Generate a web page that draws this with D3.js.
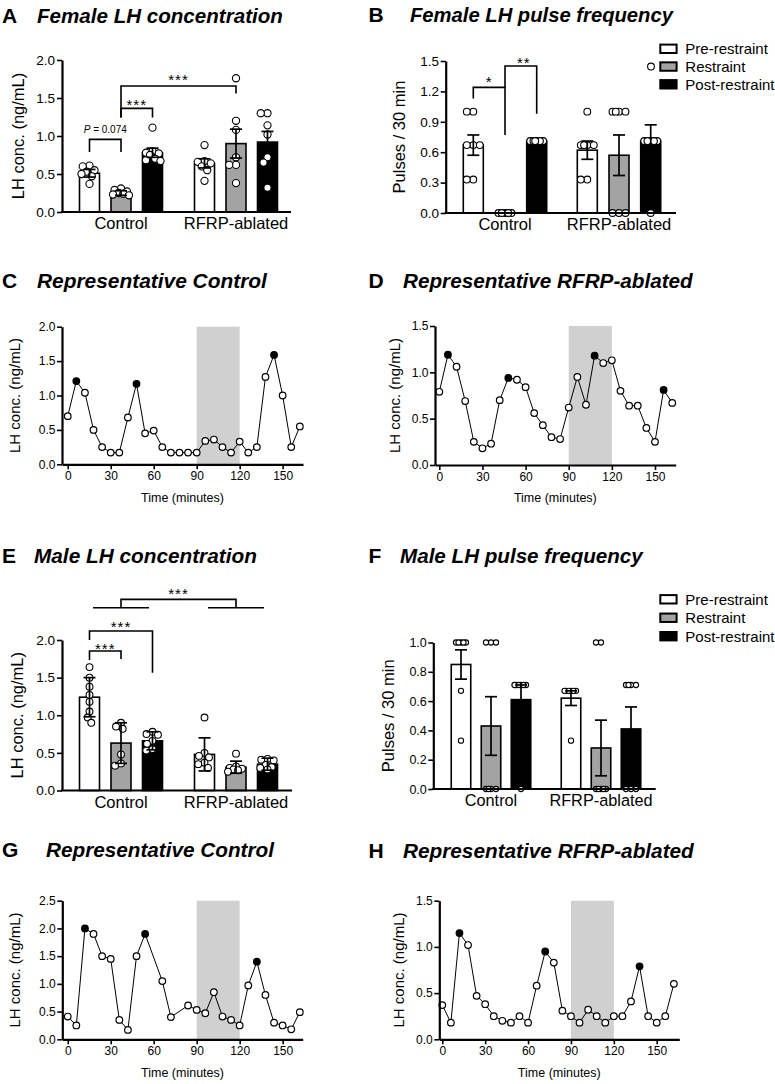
<!DOCTYPE html>
<html><head><meta charset="utf-8">
<script src="https://cdn.jsdelivr.net/npm/d3@7"></script>
<style>
body{margin:0;background:#fff;}
svg text{font-family:"Liberation Sans",Arial,Helvetica,sans-serif;fill:#000;}
</style></head><body>
<svg id="fig" width="775" height="1084"></svg>
<script>
// ---------------- DATA ----------------
const groups = ["Control", "RFRP-ablated"];
const conditions = ["Pre-restraint", "Restraint", "Post-restraint"];
const conditionFills = ["#ffffff", "#a3a3a3", "#000000"];

// A: Female LH concentration (mean, SEM, individual animals)
const femaleConcMean = [[0.51, 0.25, 0.78], [0.64, 0.90, 0.92]];
const femaleConcErr  = [[0.05, 0.03, 0.06], [0.06, 0.19, 0.14]];
const femaleConcPoints = [
  [[0.61, 0.60, 0.55, 0.53, 0.50, 0.47, 0.37], [0.31, 0.29, 0.27, 0.25, 0.24, 0.23, 0.22], [1.11, 0.80, 0.78, 0.77, 0.75, 0.70, 0.68, 0.67]],
  [[0.88, 0.67, 0.66, 0.64, 0.60, 0.55, 0.41], [1.76, 1.20, 1.08, 0.72, 0.62, 0.62, 0.38], [1.30, 1.30, 1.14, 1.02, 0.72, 0.65, 0.32]]
];
const concTicks = [0, 0.5, 1.0, 1.5, 2.0];

// B: Female LH pulse frequency
const femaleFreqMean = [[0.67, 0.0, 0.71], [0.62, 0.57, 0.71]];
const femaleFreqErr  = [[0.10, 0.0, 0.0], [0.09, 0.20, 0.16]];
const femaleFreqPoints = [
  [[1, 1, 0.67, 0.67, 0.67, 0.33, 0.33], [0, 0, 0, 0, 0], [0.71, 0.71, 0.71, 0.71, 0.71, 0.71]],
  [[1, 0.67, 0.67, 0.67, 0.67, 0.33, 0.33], [1, 1, 1, 1, 0, 0, 0], [0.71, 0.71, 0.71, 0.71, 0.71, 0]]
];
const femaleFreqTicks = [0, 0.3, 0.6, 0.9, 1.2, 1.5];

// E: Male LH concentration (mean, SD)
const maleConcMean = [[1.24, 0.63, 0.66], [0.48, 0.31, 0.35]];
const maleConcErr  = [[0.26, 0.27, 0.12], [0.22, 0.08, 0.08]];
const maleConcPoints = [
  [[1.64, 1.50, 1.38, 1.27, 1.18, 1.05, 0.97, 0.90], [0.90, 0.85, 0.82, 0.48, 0.36, 0.33], [0.78, 0.75, 0.74, 0.66, 0.62, 0.55, 0.53]],
  [[0.97, 0.50, 0.46, 0.44, 0.37, 0.35, 0.30], [0.49, 0.32, 0.30, 0.29, 0.28, 0.27, 0.25], [0.42, 0.41, 0.40, 0.34, 0.31, 0.30, 0.28]]
];

// F: Male LH pulse frequency
const maleFreqMean = [[0.85, 0.43, 0.61], [0.62, 0.28, 0.41]];
const maleFreqErr  = [[0.10, 0.20, 0.10], [0.05, 0.19, 0.15]];
const maleFreqPoints = [
  [[1, 1, 1, 1, 1, 0.67, 0.33], [1, 1, 1, 0, 0, 0, 0], [0.71, 0.71, 0.71, 0.71, 0.71, 0.71, 0]],
  [[0.67, 0.67, 0.67, 0.67, 0.67, 0.67, 0.33], [1, 1, 0, 0, 0, 0, 0], [0.71, 0.71, 0.71, 0.71, 0, 0, 0]]
];
const maleFreqTicks = [0, 0.2, 0.4, 0.6, 0.8, 1.0];

// Representative profiles (time in minutes, LH ng/mL, pulse peaks)
const sampleTimes = [0, 6, 12, 18, 24, 30, 36, 42, 48, 54, 60, 66, 72, 78, 84, 90, 96, 102, 108, 114, 120, 126, 132, 138, 144, 150, 156, 162];
const femaleControlLH = [0.70, 1.21, 1.04, 0.50, 0.25, 0.17, 0.17, 0.68, 1.17, 0.45, 0.49, 0.25, 0.17, 0.17, 0.17, 0.17, 0.34, 0.36, 0.25, 0.17, 0.33, 0.17, 0.25, 1.27, 1.59, 1.00, 0.25, 0.55];
const femaleControlPulses = [6, 48, 144];
const femaleAblatedLH = [0.79, 1.19, 1.06, 0.69, 0.25, 0.18, 0.23, 0.70, 0.94, 0.92, 0.84, 0.56, 0.43, 0.30, 0.28, 0.62, 0.95, 0.65, 1.18, 1.10, 1.13, 0.80, 0.64, 0.64, 0.40, 0.25, 0.81, 0.67];
const femaleAblatedPulses = [6, 48, 108, 156];
const maleControlTimes = [0, 6, 12, 18, 24, 30, 36, 42, 48, 54, 66, 72, 84, 90, 96, 102, 108, 114, 120, 126, 132, 138, 144, 150, 156, 162];
const maleControlLH = [0.41, 0.25, 2.00, 1.90, 1.50, 1.45, 0.35, 0.17, 1.50, 1.90, 1.05, 0.40, 0.61, 0.53, 0.47, 0.85, 0.41, 0.35, 0.25, 0.97, 1.40, 0.80, 0.30, 0.25, 0.18, 0.49];
const maleControlPulses = [12, 54, 132];
const maleAblatedLH = [0.37, 0.18, 1.15, 1.02, 0.47, 0.38, 0.25, 0.20, 0.18, 0.25, 0.18, 0.58, 0.95, 0.83, 0.31, 0.25, 0.18, 0.32, 0.25, 0.18, 0.25, 0.25, 0.41, 0.79, 0.25, 0.18, 0.25, 0.60];
const maleAblatedPulses = [12, 72, 138];
const restraintWindow = [90, 120];
const timeTicks = [0, 30, 60, 90, 120, 150];

// ---------------- DRAWING ----------------
const svg = d3.select("#fig");
const fmt1 = d3.format(".1f");

function panelTitle(letter, lx, tx, base, text, targetW) {
  svg.append("text").attr("x", lx).attr("y", base).attr("font-size", 21)
    .attr("font-weight", "bold").text(letter);
  const t = svg.append("text").attr("x", tx).attr("y", base).attr("font-size", 20)
    .attr("font-weight", "bold").attr("font-style", "italic").text(text);
  const w = t.node().getComputedTextLength();
  t.attr("font-size", 20 * targetW / w);
}

function styleAxis(g, fs, domainW) {
  g.select(".domain").attr("stroke-width", domainW).attr("stroke", "#000");
  g.selectAll(".tick line").attr("stroke-width", 1.6).attr("stroke", "#000");
  g.selectAll(".tick text").attr("font-size", fs).attr("font-family", null).attr("fill", "#000");
}

function yTitle(text, x, cy, fs) {
  svg.append("text").attr("transform", `translate(${x},${cy}) rotate(-90)`)
    .attr("text-anchor", "middle").attr("font-size", fs).text(text);
}

function swarm(vals, cx, yS, r, half) {
  const pts = vals.map(v => ({ v, y: yS(v) })).sort((a, b) => a.y - b.y);
  const placed = [];
  const need = 2 * r * 0.92;
  const offs = [0];
  for (let k = 1; k * 0.25 <= half + 1e-9; k++) offs.push(-k * 0.25, k * 0.25);
  for (const p of pts) {
    let chosen = null, bestMin = -Infinity, bestOff = 0;
    for (const o of offs) {
      let md = Infinity;
      for (const q of placed) md = Math.min(md, Math.hypot(cx + o - q.x, p.y - q.y));
      if (md >= need) { chosen = o; break; }
      if (md > bestMin + 1e-6) { bestMin = md; bestOff = o; }
    }
    p.x = cx + (chosen === null ? bestOff : chosen);
    placed.push(p);
  }
  return placed;
}

function barPanel(c) {
  const y = d3.scaleLinear().domain([0, c.yMax]).range([c.y0, c.y1]);
  const xo = d3.scaleBand().domain(groups).range(c.outer);
  const xi = d3.scaleBand().domain(conditions).range([0, xo.bandwidth()])
    .paddingInner(c.pi).paddingOuter(c.po);
  const bw = xi.bandwidth();
  const cxOf = (gi, ci) => xo(groups[gi]) + xi(conditions[ci]) + bw / 2;
  const g = svg.append("g");
  groups.forEach((gr, gi) => conditions.forEach((cd, ci) => {
    const m = c.mean[gi][ci];
    g.append("rect").attr("x", xo(gr) + xi(cd)).attr("width", bw)
      .attr("y", y(m)).attr("height", y(0) - y(m))
      .attr("fill", conditionFills[ci]).attr("stroke", "#000").attr("stroke-width", 1.6);
  }));
  // points
  groups.forEach((gr, gi) => conditions.forEach((cd, ci) => {
    const pts = swarm(c.points[gi][ci], cxOf(gi, ci), y, c.r, c.half);
    g.selectAll(null).data(pts).enter().append("circle")
      .attr("cx", d => d.x).attr("cy", d => d.y).attr("r", c.r)
      .attr("fill", "#fff").attr("stroke", "#000").attr("stroke-width", 1.1);
  }));
  // error bars
  groups.forEach((gr, gi) => conditions.forEach((cd, ci) => {
    const m = c.mean[gi][ci], e = c.err[gi][ci];
    if (e <= 0) return;
    const cx = cxOf(gi, ci);
    const col = ci === 2 ? "#000" : "#000";
    g.append("line").attr("x1", cx).attr("x2", cx).attr("y1", y(m - e)).attr("y2", y(m + e))
      .attr("stroke", col).attr("stroke-width", 1.7);
    [m - e, m + e].forEach(v => g.append("line").attr("x1", cx - 6).attr("x2", cx + 6)
      .attr("y1", y(v)).attr("y2", y(v)).attr("stroke", col).attr("stroke-width", 1.7));
  }));
  // axes
  const ya = svg.append("g").attr("transform", `translate(${c.axisX},0)`)
    .call(d3.axisLeft(y).tickValues(c.ticks).tickFormat(fmt1).tickSize(5).tickSizeOuter(0).tickPadding(c.tp || 2));
  styleAxis(ya, c.tickFs, 2.2);
  svg.append("line").attr("x1", c.axisX - 1.1).attr("x2", c.xEnd).attr("y1", y(0)).attr("y2", y(0))
    .attr("stroke", "#000").attr("stroke-width", 2.2);
  const xa = svg.append("g").attr("transform", `translate(0,${y(0)})`)
    .call(d3.axisBottom(xo).tickSize(0).tickPadding(c.catPad));
  xa.select(".domain").remove();
  xa.selectAll(".tick text").attr("font-size", c.catFs).attr("font-family", null).attr("fill", "#000");
  yTitle(c.title, c.titleX, (c.y0 + c.y1) / 2, c.titleFs);
  return { y, xo, cxOf };
}

function bracket(p, a, b, top, endA, endB) {
  const xa = p.cxOf(a[0], a[1]), xb = p.cxOf(b[0], b[1]);
  const pts = [[xa, p.y(endA)], [xa, p.y(top)], [xb, p.y(top)], [xb, p.y(endB)]];
  svg.append("path").attr("d", d3.line()(pts)).attr("fill", "none")
    .attr("stroke", "#000").attr("stroke-width", 1.6);
  return (xa + xb) / 2;
}
function stars(x, yc, text, fs) {
  svg.append("text").attr("x", x).attr("y", yc + 0.585 * fs).attr("text-anchor", "middle")
    .attr("font-size", fs).attr("letter-spacing", 1).text(text);
}

function legend(x, y0, step) {
  conditions.forEach((cd, i) => {
    const yc = y0 + i * step;
    svg.append("rect").attr("x", x + 1).attr("y", yc - 4.2).attr("width", 16.3).attr("height", 8.4)
      .attr("fill", conditionFills[i]).attr("stroke", "#000").attr("stroke-width", 2);
    svg.append("text").attr("x", x + 26).attr("y", yc + 5.3).attr("font-size", 15).text(cd);
  });
}

function timePanel(c) {
  const x = d3.scaleLinear().domain(c.xDom).range(c.xRange);
  const y = d3.scaleLinear().domain([0, c.yMax]).range([c.y0, c.y1]);
  svg.append("rect").attr("x", x(restraintWindow[0])).attr("width", x(restraintWindow[1]) - x(restraintWindow[0]))
    .attr("y", y(c.yMax)).attr("height", y(0) - y(c.yMax)).attr("fill", "#d0d0d0");
  const data = c.times.map((t, i) => ({ t, v: c.values[i], pulse: c.pulses.includes(t) }));
  svg.append("path").datum(data).attr("d", d3.line().x(d => x(d.t)).y(d => y(d.v)))
    .attr("fill", "none").attr("stroke", "#000").attr("stroke-width", 1);
  svg.append("g").selectAll("circle").data(data).enter().append("circle")
    .attr("cx", d => x(d.t)).attr("cy", d => y(d.v)).attr("r", 3.3)
    .attr("fill", d => d.pulse ? "#000" : "#fff").attr("stroke", "#000").attr("stroke-width", 1.2);
  const ya = svg.append("g").attr("transform", `translate(${c.xRange[0]},0)`)
    .call(d3.axisLeft(y).tickValues(c.yTicks).tickFormat(fmt1).tickSize(5).tickSizeOuter(0).tickPadding(1.5));
  styleAxis(ya, 12, 2.2);
  const xa = svg.append("g").attr("transform", `translate(0,${c.y0})`)
    .call(d3.axisBottom(x).tickValues(timeTicks).tickSize(5).tickSizeOuter(0).tickPadding(2));
  styleAxis(xa, 12, 2.2);
  yTitle("LH conc. (ng/mL)", c.titleX, (c.y0 + c.y1) / 2, 15);
  svg.append("text").attr("x", (c.xRange[0] + c.xRange[1]) / 2).attr("y", c.timeBase)
    .attr("text-anchor", "middle").attr("font-size", 12.5).text("Time (minutes)");
}

// ---- Titles ----
panelTitle("A", 2, 37, 22.5, "Female LH concentration", 246);
panelTitle("B", 368.5, 410, 21.5, "Female LH pulse frequency", 263);
panelTitle("C", 2, 37, 287.5, "Representative Control", 230);
panelTitle("D", 368.5, 403, 288, "Representative RFRP-ablated", 290);
panelTitle("E", 2, 34, 563, "Male LH concentration", 223);
panelTitle("F", 368.5, 400, 563, "Male LH pulse frequency", 243);
panelTitle("G", 2, 46, 857, "Representative Control", 228);
panelTitle("H", 368.5, 403, 858, "Representative RFRP-ablated", 291);

// ---- A ----
const pA = barPanel({ yMax: 2, y0: 212, y1: 60, outer: [63.5, 293.5], pi: 0.365, po: 0.508,
  mean: femaleConcMean, err: femaleConcErr, points: femaleConcPoints, r: 3.6, half: 8,
  axisX: 62, xEnd: 291, ticks: concTicks, tickFs: 13.5, catPad: 5.5, catFs: 16.5,
  title: "LH conc. (ng/mL)", titleX: 23.5, titleFs: 16.5 });
let mx = bracket(pA, [0, 0], [0, 1], 0.955, 0.79, 0.79);
svg.append("text").attr("x", mx).attr("y", pA.y(1.042)).attr("text-anchor", "middle").attr("font-size", 10)
  .html('<tspan font-style="italic">P</tspan> = 0.074');
mx = bracket(pA, [0, 1], [0, 2], 1.363, 1.244, 1.244);
stars(mx, pA.y(1.459), "***", 15);
mx = bracket(pA, [0, 1], [1, 1], 1.657, 1.244, 1.56);
stars(mx, pA.y(1.793), "***", 15);

// ---- B ----
const pB = barPanel({ yMax: 1.5, y0: 213, y1: 61, outer: [448, 676], pi: 0.369, po: 0.4825,
  mean: femaleFreqMean, err: femaleFreqErr, points: femaleFreqPoints, r: 3.4, half: 6.5,
  axisX: 445.7, xEnd: 676, ticks: femaleFreqTicks, tickFs: 13.5, tp: 1.7, catPad: 5.5, catFs: 16.5,
  title: "Pulses / 30 min", titleX: 405, titleFs: 16.5 });
mx = bracket(pB, [0, 0], [0, 1], 1.24, 1.13, 0.77);
stars(mx, pB.y(1.33), "*", 15);
mx = bracket(pB, [0, 1], [0, 2], 1.45, 1.24, 0.98);
stars(mx + 3, pB.y(1.52), "**", 15);
legend(659.3, 48.8, 17.75);
svg.append("circle").attr("cx", 651).attr("cy", 48.8 + 17.75).attr("r", 3.4)
  .attr("fill", "#fff").attr("stroke", "#000").attr("stroke-width", 1.1);

// ---- C, D ----
timePanel({ xDom: [-4, 164.2], xRange: [62, 303], yMax: 2, y0: 464.3, y1: 326.7,
  yTicks: [0, 0.5, 1, 1.5, 2], times: sampleTimes, values: femaleControlLH, pulses: femaleControlPulses,
  titleX: 19.5, timeBase: 502 });
timePanel({ xDom: [-3, 164.4], xRange: [435, 675.7], yMax: 1.5, y0: 465, y1: 326,
  yTicks: [0, 0.5, 1, 1.5], times: sampleTimes, values: femaleAblatedLH, pulses: femaleAblatedPulses,
  titleX: 400, timeBase: 502 });

// ---- E ----
const pE = barPanel({ yMax: 2, y0: 790.5, y1: 640, outer: [63.5, 293.5], pi: 0.365, po: 0.508,
  mean: maleConcMean, err: maleConcErr, points: maleConcPoints, r: 3.4, half: 8,
  axisX: 62, xEnd: 292, ticks: concTicks, tickFs: 13.5, catPad: 6, catFs: 16.5,
  title: "LH conc. (ng/mL)", titleX: 22.5, titleFs: 16.5 });
// group comparison bracket
(function () {
  const cA = pE.xo(groups[0]) + pE.xo.bandwidth() / 2, cB = pE.xo(groups[1]) + pE.xo.bandwidth() / 2;
  const yl = pE.y(2.429), yt = pE.y(2.54);
  [cA, cB].forEach(cx => svg.append("line").attr("x1", cx - 28).attr("x2", cx + 28).attr("y1", yl).attr("y2", yl)
    .attr("stroke", "#000").attr("stroke-width", 1.6));
  svg.append("path").attr("d", d3.line()([[cA, yl], [cA, yt], [cB, yt], [cB, yl]]))
    .attr("fill", "none").attr("stroke", "#000").attr("stroke-width", 1.6);
  stars((cA + cB) / 2, pE.y(2.668), "***", 15);
})();
mx = bracket(pE, [0, 0], [0, 2], 2.12, 2.0, 1.565);
stars(mx, pE.y(2.222), "***", 15);
mx = bracket(pE, [0, 0], [0, 1], 1.854, 1.734, 1.747);
stars(mx, pE.y(1.934), "***", 15);

// ---- F ----
barPanel({ yMax: 1, y0: 789, y1: 642.5, outer: [436, 656], pi: 0.35, po: 0.508,
  mean: maleFreqMean, err: maleFreqErr, points: maleFreqPoints, r: 2.6, half: 6.5,
  axisX: 433.3, xEnd: 655.7, ticks: maleFreqTicks, tickFs: 12.5, tp: 1.5, catPad: 5.3, catFs: 16.3,
  title: "Pulses / 30 min", titleX: 393.5, titleFs: 16.5 });
legend(659.3, 599.3, 18.45);

// ---- G, H ----
timePanel({ xDom: [-3.8, 164], xRange: [62.3, 302.7], yMax: 2.5, y0: 1039.3, y1: 900.7,
  yTicks: [0, 0.5, 1, 1.5, 2, 2.5], times: maleControlTimes, values: maleControlLH, pulses: maleControlPulses,
  titleX: 20, timeBase: 1077 });
timePanel({ xDom: [-2.1, 165.8], xRange: [439.3, 679.3], yMax: 1.5, y0: 1039.3, y1: 900.7,
  yTicks: [0, 0.5, 1, 1.5], times: sampleTimes, values: maleAblatedLH, pulses: maleAblatedPulses,
  titleX: 403.5, timeBase: 1077 });
</script>
</body></html>
